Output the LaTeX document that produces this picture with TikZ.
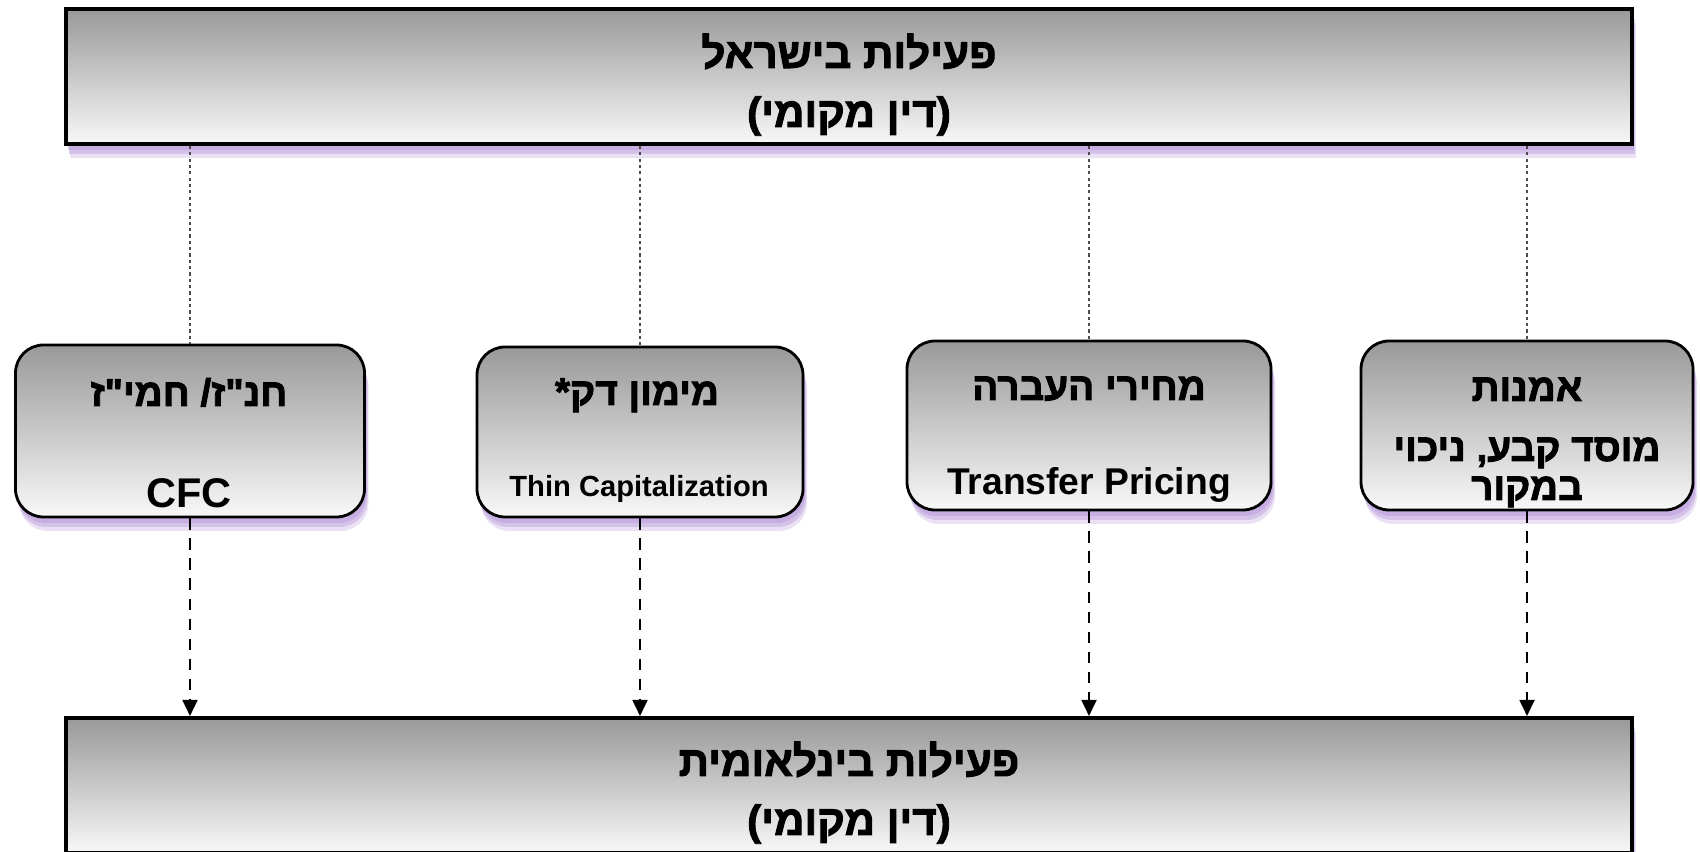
\documentclass[tikz,border=0pt]{standalone}
\usepackage{fontspec}
\setmainfont{Liberation Sans}
\newfontfamily\hebfont[Script=Hebrew,Ligatures=TeXOff,FakeBold=2.2]{Liberation Sans Bold}
\TeXXeTstate=1
\usetikzlibrary{arrows.meta,shadows}
\definecolor{boxtop}{RGB}{153,153,153}
\definecolor{boxbottom}{RGB}{248,248,248}
\definecolor{glowviolet}{RGB}{186,156,220}
\newcommand{\heb}[1]{{\hebfont\mdseries\beginR #1\endR}}
\tikzset{
  greyfade/.style={top color=boxtop, bottom color=boxbottom},
  violetglow/.style={drop shadow={shadow xshift=0.04, shadow yshift=-0.14, fill=glowviolet, opacity=0.3},
                     drop shadow={shadow xshift=0.03, shadow yshift=-0.1, fill=glowviolet, opacity=0.45},
                     drop shadow={shadow xshift=0.02, shadow yshift=-0.06, fill=glowviolet, opacity=0.55}},
  lawbox/.style={draw=black, line width=1.1pt, greyfade, violetglow, minimum width=15.66cm,
                 minimum height=1.35cm, inner sep=0pt},
  topicbox/.style={draw=black, line width=0.8pt, rounded corners=0.28cm, greyfade, violetglow, inner sep=0pt},
  title/.style={anchor=base, inner sep=0pt, font=\fontsize{12}{12}\selectfont},
  heading/.style={anchor=base, inner sep=0pt, font=\fontsize{11}{11}\selectfont},
  latin/.style={anchor=base, inner sep=0pt, font=\bfseries\fontsize{#1}{#1}\selectfont},
  dotlink/.style={gray!60!black, line width=0.45pt, dash pattern=on 0.9pt off 0.9pt},
  dasharrow/.style={line width=0.8pt, dash pattern=on 3.2pt off 2.5pt, -{Triangle[length=4.6pt,width=4.2pt]}}
}
\begin{document}
\begin{tikzpicture}
  \useasboundingbox (0,0) rectangle (17,8.52);
  % local and international activity
  \node[lawbox] (israel) at (8.49,7.755) {};
  \node[lawbox] (intl) at (8.49,0.665) {};
  \node[title] (israel-a) at (8.49,7.84) {\heb{פעילות בישראל}};
  \node[title] (israel-b) at (8.49,7.25) {\heb{(דין מקומי)}};
  \node[title] (intl-a) at (8.49,0.76) {\heb{פעילות בינלאומית}};
  \node[title] (intl-b) at (8.49,0.17) {\heb{(דין מקומי)}};
  % the four topics
  \node[topicbox, minimum width=3.49cm, minimum height=1.72cm] (cfc) at (1.9,4.21) {};
  \node[topicbox, minimum width=3.26cm, minimum height=1.70cm] (thincap) at (6.4,4.20) {};
  \node[topicbox, minimum width=3.64cm, minimum height=1.69cm] (pricing) at (10.89,4.265) {};
  \node[topicbox, minimum width=3.32cm, minimum height=1.69cm] (estab) at (15.27,4.265) {};
  \node[heading] (cfc-he) at (1.89,4.46) {\heb{חנ"ז/ חמי"ז}};
  \node[latin=11.8] (cfc-en) at (1.89,3.44) {CFC};
  \node[heading] (thincap-he) at (6.37,4.47) {\heb{מימון דק*}};
  \node[latin=8.3] (thincap-en) at (6.39,3.55) {Thin Capitalization};
  \node[heading] (pricing-he) at (10.89,4.52) {\heb{מחירי העברה}};
  \node[latin=10.6] (pricing-en) at (10.89,3.57) {Transfer Pricing};
  \node[heading] (estab-a) at (15.27,4.51) {\heb{אמנות}};
  \node[heading] (estab-b) at (15.27,3.91) {\heb{מוסד קבע, ניכוי}};
  \node[heading] (estab-c) at (15.27,3.52) {\heb{במקור}};
  % connectors
  \foreach \t in {cfc,thincap,pricing,estab} {
    \draw[dotlink] (israel.south -| \t.north) -- (\t.north);
    \draw[dasharrow] (\t.south) -- (\t.south |- intl.north);
  }
\end{tikzpicture}
\end{document}
